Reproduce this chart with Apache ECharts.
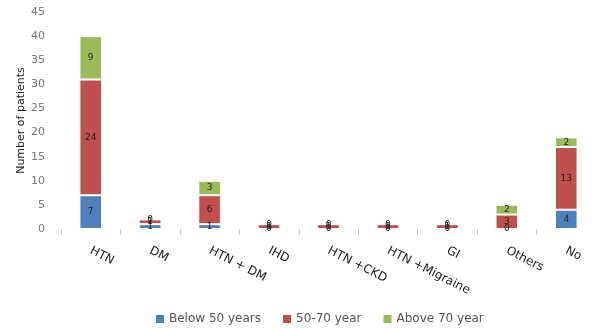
<!DOCTYPE html>
<html><head><meta charset="utf-8">
<script src="https://cdn.jsdelivr.net/npm/echarts@6/dist/echarts.min.js"></script>
<style>html,body{margin:0;padding:0;background:#fff}#c{width:596px;height:328px}</style>
</head><body><div id="c"></div>
<script>
const categories = ['HTN','DM','HTN + DM','IHD','HTN +CKD','HTN +Migraine','GI','Others','No'];
const below50 = [7,1,1,0,0,0,0,0,4];
const mid5070 = [24,1,6,1,1,1,1,3,13];
const above70 = [9,0,3,0,0,0,0,2,2];
const seriesNames = ['Below 50 years','50-70 year','Above 70 year'];
const colors = ['#4f81bd','#c0504d','#9bbb59'];

const chart = echarts.init(document.getElementById('c'));
const mk = (name, data, color) => ({
  name, type:'bar', stack:'t', data, barWidth:'38%',
  itemStyle:{color, borderColor:'#fff', borderWidth:1},
  label:{show:true, position:'inside', color:'#222', fontSize:9, fontFamily:'DejaVu Sans'}
});
chart.setOption({
  animation:false,
  grid:{left:61, right:-6, top:12, bottom:99},
  legend:{top:308, left:151, itemWidth:8, itemHeight:8, itemGap:22, itemStyle:{borderWidth:0},
    icon:'rect', textStyle:{fontSize:12, color:'#555', fontFamily:'DejaVu Sans'},
    data:seriesNames},
  xAxis:{type:'category', data:categories,
    axisLine:{show:false},
    axisTick:{show:true, length:6, lineStyle:{color:'#ccc'}},
    axisLabel:{rotate:-27, fontSize:12, color:'#222', fontFamily:'DejaVu Sans', margin:21}},
  yAxis:{type:'value', min:0, max:45, interval:5,
    name:'Number of patients', nameLocation:'middle', nameGap:34, nameMoveOverlap:false,
    nameTextStyle:{fontSize:11, color:'#222', fontFamily:'DejaVu Sans'},
    axisLine:{show:false}, axisTick:{show:false}, splitLine:{show:false},
    axisLabel:{fontSize:11, color:'#777', margin:16, fontFamily:'DejaVu Sans'}},
  series:[mk(seriesNames[0], below50, colors[0]), mk(seriesNames[1], mid5070, colors[1]), mk(seriesNames[2], above70, colors[2])]
});
</script></body></html>
